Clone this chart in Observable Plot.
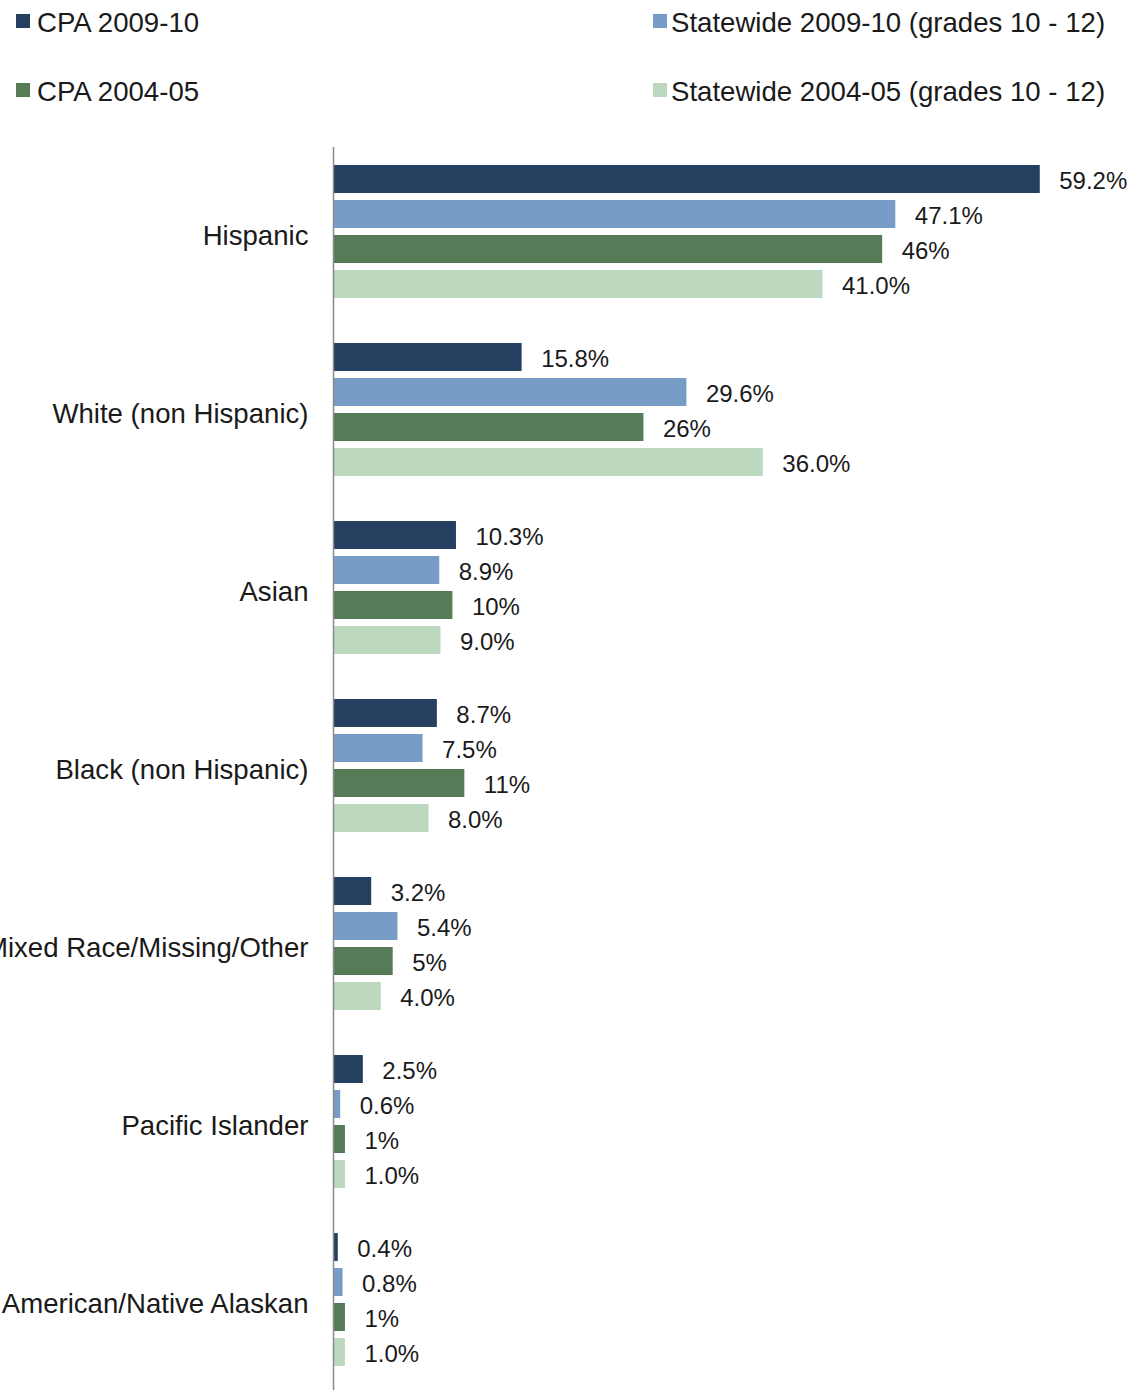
<!DOCTYPE html>
<html>
<head>
<meta charset="utf-8">
<script src="https://cdn.jsdelivr.net/npm/d3@7"></script>
<script src="https://cdn.jsdelivr.net/npm/@observablehq/plot@0.6"></script>
<style>
  html, body { margin: 0; padding: 0; background: #fff; overflow: hidden; }
  body { width: 1134px; font-family: "Liberation Sans", Arial, Helvetica, sans-serif; color: #1a1a1a; }
  #legend { position: relative; height: 145px; width: 1134px; }
  .item { position: absolute; font-size: 27.6px; line-height: 30px; white-space: nowrap; }
  .sw { position: absolute; width: 14px; height: 14px; }
  #chart svg { display: block; }
</style>
</head>
<body>
<div id="legend"></div>
<div id="chart"></div>
<script>
const categories = ["Hispanic", "White (non Hispanic)", "Asian", "Black (non Hispanic)", "Mixed Race/Missing/Other", "Pacific Islander", "American/Native Alaskan"];
const series = ["CPA 2009-10", "Statewide 2009-10 (grades 10 - 12)", "CPA 2004-05", "Statewide 2004-05 (grades 10 - 12)"];
const colors = ["#253f60", "#779cc8", "#567b57", "#bcd8bf"];
const cpa2009 = [59.2, 15.8, 10.3, 8.7, 3.2, 2.5, 0.4];
const state2009 = [47.1, 29.6, 8.9, 7.5, 5.4, 0.6, 0.8];
const cpa2004 = [46, 26, 10, 11, 5, 1, 1];
const state2004 = [41.0, 36.0, 9.0, 8.0, 4.0, 1.0, 1.0];
const decimals = [1, 1, 0, 1];

const valuesBySeries = [cpa2009, state2009, cpa2004, state2004];
const data = [];
categories.forEach((c, i) => {
  series.forEach((s, j) => {
    data.push({category: c, series: s, value: valuesBySeries[j][i], label: d3.format("." + decimals[j] + "f")(valuesBySeries[j][i]) + "%"});
  });
});

// Legend (HTML, above the SVG)
const legend = document.getElementById("legend");
const legendPos = [
  {sx: 16, tx: 37, y: 8},
  {sx: 653, tx: 671, y: 8},
  {sx: 16, tx: 37, y: 77},
  {sx: 653, tx: 671, y: 77}
];
series.forEach((s, j) => {
  const p = legendPos[j];
  const sw = document.createElement("div");
  sw.className = "sw";
  sw.style.left = p.sx + "px";
  sw.style.top = (p.y + 6) + "px";
  sw.style.background = colors[j];
  legend.appendChild(sw);
  const t = document.createElement("div");
  t.className = "item";
  t.style.left = p.tx + "px";
  t.style.top = p.y + "px";
  t.textContent = s;
  legend.appendChild(t);
});

const chart = Plot.plot({
  width: 1134,
  height: 1250,
  marginLeft: 333,
  marginRight: 25,
  marginTop: 0,
  marginBottom: 0,
  style: {fontFamily: "Liberation Sans, Arial, Helvetica, sans-serif", fontSize: "27.6px", color: "#1a1a1a", background: "#fff", overflow: "visible"},
  x: {domain: [0, 65], axis: null},
  y: {domain: series, axis: null, paddingInner: 0.21, paddingOuter: 0.61, align: 0.4},
  fy: {domain: categories, padding: 0, axis: "left", tickSize: 0, tickPadding: 25, label: null},
  facet: {marginTop: 0, marginBottom: 0, marginLeft: 0, marginRight: 0},
  color: {domain: series, range: colors},
  marks: [
    Plot.barX(data, {x: "value", y: "series", fy: "category", fill: "series"}),
    Plot.text(data, {x: "value", y: "series", fy: "category", text: "label", textAnchor: "start", dx: 19, dy: 2, fontSize: 24, fill: "#1a1a1a"}),
    Plot.ruleX([0], {stroke: "#8a8a8a", strokeWidth: 1.5})
  ]
});
document.getElementById("chart").appendChild(chart);
</script>
</body>
</html>
